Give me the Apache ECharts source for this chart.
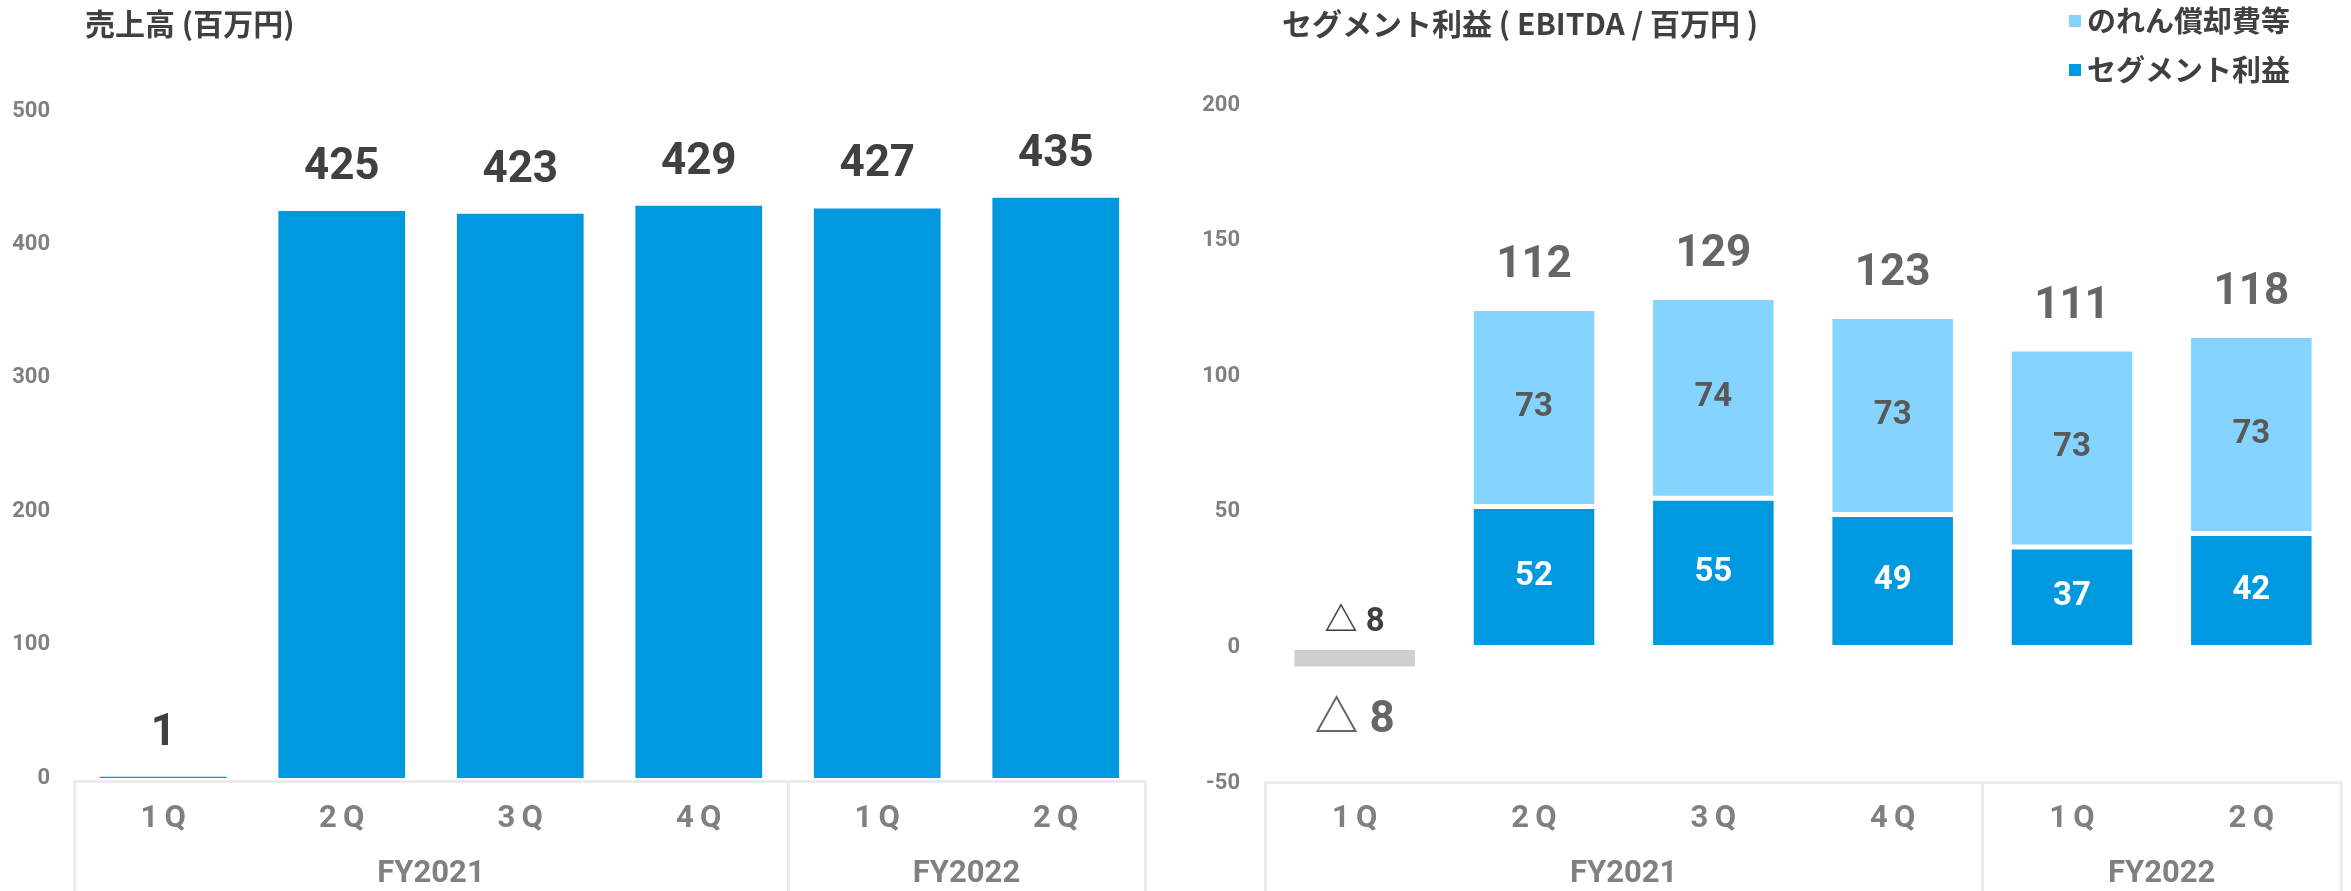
<!DOCTYPE html>
<html>
<head>
<meta charset="utf-8">
<script src="https://cdn.jsdelivr.net/npm/echarts@6/dist/echarts.min.js"></script>
<style>
  html, body { margin: 0; padding: 0; background: #ffffff; }
  #chart { width: 2351px; height: 891px; }
</style>
</head>
<body>
<div id="chart"></div>
<script>
// Quarterly categories and the fiscal years they belong to
const quarters = ['1Q', '2Q', '3Q', '4Q', '1Q', '2Q'];
const fiscalYears = ['FY2021', 'FY2022'];
const quartersPerYear = [4, 2];

// 売上高 (百万円)
const sales = [1, 425, 423, 429, 427, 435];

// セグメント利益 (EBITDA / 百万円)
const segmentProfit = [-8, 52, 55, 49, 37, 42];
const goodwillAmort = [null, 73, 74, 73, 73, 73];
const ebitdaTotal = [-8, 112, 129, 123, 111, 118];

// Value-axis tick labels
const salesTicks = [0, 100, 200, 300, 400, 500];
const profitTicks = [-50, 0, 50, 100, 150, 200];

const C_BLUE = '#0099e0';
const C_LIGHT = '#85d4ff';
const C_GRAY = '#d0cece';
const C_TEXT = '#404040';
const C_AXIS = '#808080';
const C_BOX = '#ebebeb';
const NUM_FONT = "Roboto, 'Noto Sans CJK JP', sans-serif";
const JP_FONT = "'Noto Sans CJK JP', sans-serif";

// Year group boundaries (in quarter units) and group label centres
const yearBounds = [0];
quartersPerYear.forEach(n => yearBounds.push(yearBounds[yearBounds.length - 1] + n));
const yearCenters = quartersPerYear.map((n, i) => yearBounds[i] + n / 2);

// Negative amounts are written with a triangle
const fmt = v => (v < 0 ? '△ ' + Math.abs(v) : String(v));

// Top of each stacked column, where the EBITDA total is written
const stackTop = segmentProfit.map((v, i) => v + (goodwillAmort[i] || 0));

function quarterAxis(gridIndex, margin) {
  return {
    type: 'category', gridIndex, data: quarters,
    axisLine: { show: false, onZero: false },
    axisTick: { show: false },
    axisLabel: {
      margin, verticalAlign: 'middle', fontSize: 31, fontWeight: 'bold',
      color: C_AXIS, fontFamily: NUM_FONT,
      formatter: v => v.split('').join('\u2009')
    }
  };
}

function yearAxis(gridIndex, offset, margin) {
  return {
    type: 'value', gridIndex, min: 0, max: yearBounds[yearBounds.length - 1],
    position: 'bottom', offset,
    axisLine: { show: true, onZero: false, lineStyle: { color: C_BOX, width: 3 } },
    axisTick: { show: true, customValues: yearBounds, length: 120, lineStyle: { color: C_BOX, width: 3 } },
    axisLabel: {
      customValues: yearCenters, margin, verticalAlign: 'middle',
      fontSize: 31, fontWeight: 'bold', color: C_AXIS, fontFamily: NUM_FONT,
      formatter: v => fiscalYears[yearCenters.indexOf(v)]
    },
    splitLine: { show: false }
  };
}

function valueAxis(gridIndex, ticks, margin) {
  return {
    type: 'value', gridIndex,
    min: ticks[0], max: ticks[ticks.length - 1], interval: ticks[1] - ticks[0],
    axisLine: { show: false, onZero: false },
    axisTick: { show: false },
    splitLine: { show: false },
    axisLabel: { margin, fontSize: 22, fontWeight: 'bold', color: C_AXIS, fontFamily: NUM_FONT }
  };
}

const chart = echarts.init(document.getElementById('chart'), null, { renderer: 'canvas' });

chart.setOption({
  animation: false,
  backgroundColor: '#ffffff',
  title: [
    {
      text: '売上高 (百万円)', left: 85, top: 9, padding: 0,
      textStyle: { fontSize: 30, fontWeight: 'bold', color: C_TEXT, fontFamily: JP_FONT }
    },
    {
      text: 'セグメント利益 ( EBITDA / 百万円 )', left: 1282, top: 9, padding: 0,
      textStyle: { fontSize: 30, fontWeight: 'bold', color: C_TEXT, fontFamily: JP_FONT }
    }
  ],
  legend: {
    data: ['のれん償却費等', 'セグメント利益'],
    orient: 'vertical', left: 2067, top: 5, padding: 0,
    icon: 'rect', itemWidth: 14, itemHeight: 14, itemGap: 17,
    textStyle: { fontSize: 29, fontWeight: 'bold', color: C_TEXT, fontFamily: JP_FONT, lineHeight: 32 }
  },
  grid: [
    { left: 74, right: 2351 - 1145, top: 111, bottom: 891 - 778 },
    { left: 1265, right: 10, top: 105, bottom: 891 - 783 }
  ],
  xAxis: [
    quarterAxis(0, 41),
    yearAxis(0, 3, 93),
    quarterAxis(1, 36),
    yearAxis(1, -1, 92)
  ],
  yAxis: [
    valueAxis(0, salesTicks, 24),
    valueAxis(1, profitTicks, 25)
  ],
  series: [
    {
      name: '売上高', type: 'bar', xAxisIndex: 0, yAxisIndex: 0,
      data: sales, barWidth: '71%',
      itemStyle: { color: C_BLUE },
      label: {
        show: true, position: 'top', distance: 21,
        fontSize: 44, fontWeight: 'bold', color: C_TEXT, fontFamily: NUM_FONT
      }
    },
    {
      name: 'セグメント利益', type: 'bar', xAxisIndex: 2, yAxisIndex: 1, stack: 'ebitda',
      barWidth: '70%',
      data: segmentProfit.map(v => v < 0
        ? { value: v, itemStyle: { color: C_GRAY }, label: { position: 'top', distance: 8, color: C_TEXT } }
        : v),
      itemStyle: { color: C_BLUE, borderColor: '#ffffff', borderWidth: 2.5 },
      label: {
        show: true, position: 'inside', fontSize: 33, fontWeight: 'bold',
        color: '#ffffff', fontFamily: NUM_FONT, formatter: p => fmt(p.value)
      }
    },
    {
      name: 'のれん償却費等', type: 'bar', xAxisIndex: 2, yAxisIndex: 1, stack: 'ebitda',
      barWidth: '70%',
      data: goodwillAmort,
      itemStyle: { color: C_LIGHT, borderColor: '#ffffff', borderWidth: 2.5 },
      label: {
        show: true, position: 'inside', fontSize: 33, fontWeight: 'bold',
        color: '#595959', fontFamily: NUM_FONT
      }
    },
    {
      name: 'EBITDA', type: 'scatter', xAxisIndex: 2, yAxisIndex: 1,
      symbolSize: 1, itemStyle: { color: 'rgba(0,0,0,0)' }, z: 5,
      data: stackTop.map((v, i) => ebitdaTotal[i] < 0
        ? { value: v, label: { position: 'bottom', distance: 29 } }
        : v),
      label: {
        show: true, position: 'top', distance: 20,
        fontSize: 44, fontWeight: 'bold', color: C_TEXT, fontFamily: NUM_FONT,
        formatter: p => fmt(ebitdaTotal[p.dataIndex])
      }
    }
  ]
});
</script>
</body>
</html>
